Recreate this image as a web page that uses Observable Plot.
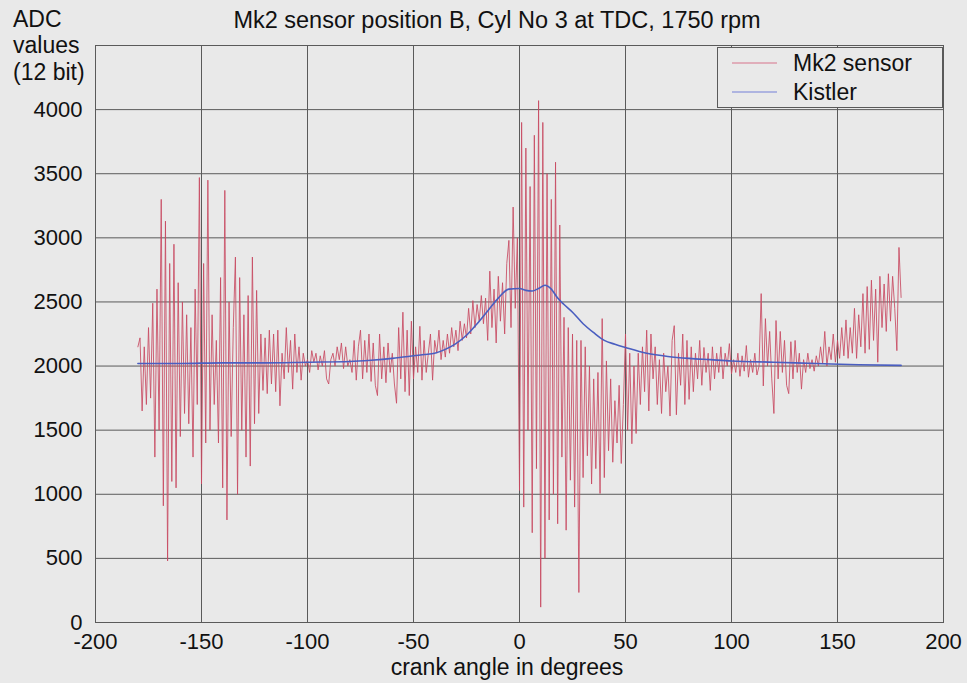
<!DOCTYPE html>
<html>
<head>
<meta charset="utf-8">
<script src="https://cdn.jsdelivr.net/npm/d3@7"></script>
<script src="https://cdn.jsdelivr.net/npm/@observablehq/plot@0.6"></script>
<style>
  html, body { margin: 0; padding: 0; background: #e9e9e9; }
  #chart svg { display: block; }
</style>
</head>
<body>
<div id="chart"></div>
<script>
// ---- Text ----
const titleText = "Mk2 sensor position B, Cyl No 3 at TDC, 1750 rpm";
const yLabelLines = ["ADC", "values", "(12 bit)"];
const xLabelText = "crank angle in degrees";
const seriesNames = ["Mk2 sensor", "Kistler"];

// ---- Ticks ----
const xTicks = [-200, -150, -100, -50, 0, 50, 100, 150, 200];
const yTicks = [0, 500, 1000, 1500, 2000, 2500, 3000, 3500, 4000];
const yGridExtra = [4500];

// ---- Mk2 sensor samples (one per degree, starting at -180) ----
const sensorStart = -180;
const sensorStep = 1;
const sensorValues = [
  2150, 2220, 1650, 2150, 1700, 2300, 1750, 2490, 1290, 2600,
  1500, 3300, 910, 3130, 480, 2800, 1100, 2950, 1050, 2650,
  1450, 2500, 1630, 2400, 1550, 2300, 1290, 2600, 1700, 3470,
  1080, 2800, 1400, 3450, 1500, 2400, 1700, 2200, 1400, 2690,
  1050, 3370, 800, 2500, 1450, 2300, 2850, 1000, 2690, 1500,
  2400, 1290, 2550, 1220, 2850, 1550, 2590, 1630, 2250, 1810,
  2220, 1785, 2280, 1860, 2250, 1800, 2280, 1690, 2100, 1900,
  2300, 1950, 2200, 1820, 2250, 1950, 2150, 1890, 2100, 2000,
  2050, 1950, 2120, 2030, 2100, 1970, 2080, 2000, 2120, 1900,
  1860, 2050, 2100, 2000, 2150, 2050, 2180, 1980, 2150, 2000,
  2050, 1950, 2200, 1890, 2150, 2280, 1900, 2200, 1950, 2250,
  1880, 2180, 1850, 1770, 2250, 1900, 2150, 1870, 2180, 1950,
  2100, 1860, 1710, 2300, 1900, 2420, 1800, 2280, 1770, 2350,
  1900, 2150, 1950, 2310, 1890, 2200, 1950, 2100, 2250, 1890,
  2200, 2100, 2280, 2050, 2200, 2070, 2250, 2100, 2300, 2150,
  2280, 2120, 2350, 2200, 2330, 2220, 2450, 2250, 2510, 2300,
  2480, 2350, 2550, 2330, 2530, 2200, 2740, 2300, 2600, 2180,
  2700, 2350, 2650, 2250, 2800, 2980, 2300, 3240, 2450, 3000,
  1030, 3900, 900, 3700, 1500, 3400, 700, 3800, 1200, 4070,
  120, 3900, 500, 3500, 800, 3300, 1000, 3590, 770, 3100,
  1290, 2380, 720, 2300, 1110, 2250, 900, 2200, 234, 2200,
  1130, 2150, 1300, 2000, 1080, 1900, 1200, 1950, 1006, 2370,
  1130, 2040, 1340, 1900, 1250, 1730, 1400, 1850, 1240, 1700,
  2250, 1500, 2100, 1394, 2000, 1474, 2100, 1700, 2150, 1800,
  2280, 1650, 2250, 1900, 2150, 1700, 2050, 1630, 2100, 1800,
  2000, 1610, 2200, 2315, 1620, 2100, 1850, 2250, 1700, 2200,
  1740, 2150, 1800, 2100, 1900, 2200, 1850, 2145, 1950, 2100,
  1810, 2150, 1900, 2100, 1950, 2150, 1900, 2100, 2000, 2175,
  1940, 2050, 1950, 2100, 1920, 2080, 1960, 2160, 1913, 2050,
  1950, 2100, 1930, 2000, 2565, 1845, 2370, 2000, 2270, 1900,
  1630, 2355, 1900, 2270, 1950, 2200, 1850, 1785, 2190, 1900,
  2200, 1950, 2100, 1820, 2050, 1950, 2100, 1980, 2050, 1960,
  2080, 2000, 2150, 2020, 2270, 2000, 2150, 2050, 2250, 2030,
  2200, 2060, 2300, 2080, 2360, 2060, 2300, 2100, 2450, 2060,
  2400, 2150, 2565, 2100, 2620, 2130, 2670, 2200, 2600, 2030,
  2700, 2300, 2640, 2270, 2720, 2350, 2700, 2450, 2120, 2925,
  2535
];

// ---- Kistler reference pressure ----
const kistlerAngles = [-180, -160, -140, -120, -100, -80, -70, -60, -55, -50, -45, -40, -35, -30, -25, -20, -15, -10, -5, 0, 3, 6, 9, 12, 15, 18, 21, 25, 30, 35, 40, 45, 50, 60, 70, 80, 90, 100, 120, 140, 160, 180];
const kistlerValues = [2020, 2020, 2025, 2025, 2030, 2035, 2045, 2060, 2070, 2080, 2090, 2100, 2130, 2175, 2240, 2330, 2430, 2530, 2600, 2605, 2590, 2585, 2605, 2630, 2600, 2530, 2480, 2420, 2330, 2260, 2200, 2170, 2145, 2100, 2075, 2060, 2050, 2040, 2030, 2020, 2010, 2005];

// ---- Colours ----
const colSensor = "#c84a62";
const colKistler = "#4a5ec0";
const colSensorLegend = "#dc9aaa";
const colKistlerLegend = "#9aa2dc";
const colGrid = "#5a5a5a";
const bg = "#e9e9e9";
const font = "'Liberation Sans', Arial, Helvetica, sans-serif";

const sensor = sensorValues.map((v, i) => ({angle: sensorStart + i * sensorStep, value: v}));
const kistler = kistlerAngles.map((a, i) => ({angle: a, value: kistlerValues[i]}));

const W = 967, H = 683;
const mL = 95, mR = 24, mT = 45, mB = 61;

const svg = Plot.plot({
  width: W,
  height: H,
  marginLeft: mL,
  marginRight: mR,
  marginTop: mT,
  marginBottom: mB,
  style: {background: bg, fontFamily: font, fontSize: "22px", color: "#111", overflow: "visible"},
  x: {domain: [-200, 200], axis: null},
  y: {domain: [0, 4500], axis: null},
  marks: [
    Plot.ruleX(xTicks, {stroke: colGrid, strokeWidth: 1}),
    Plot.ruleY(yTicks.concat(yGridExtra), {stroke: colGrid, strokeWidth: 1}),
    Plot.line(sensor, {x: "angle", y: "value", stroke: colSensor, strokeWidth: 1, strokeOpacity: 0.85}),
    Plot.line(kistler, {x: "angle", y: "value", stroke: colKistler, strokeWidth: 1.6, curve: "monotone-x"}),
    Plot.frame({stroke: colGrid}),
    // tick labels through the scales
    Plot.text(yTicks, {x: -200, y: d => d, text: d => String(d), textAnchor: "end", dx: -13, fontSize: 22, fill: "#111"}),
    Plot.text(xTicks, {x: d => d, y: 0, text: d => String(d), textAnchor: "middle", dy: 19, fontSize: 22, fill: "#111"})
  ]
});

const s = d3.select(svg);

// Title
s.append("text").attr("x", 497).attr("y", 28).attr("text-anchor", "middle")
  .attr("font-family", font).attr("font-size", 23.5).attr("fill", "#111").text(titleText);

// Y axis label (three lines, left aligned)
const yLabelBaselines = [27, 53, 80];
yLabelLines.forEach((t, i) => {
  s.append("text").attr("x", 13).attr("y", yLabelBaselines[i]).attr("text-anchor", "start")
    .attr("font-family", font).attr("font-size", 23).attr("fill", "#111").text(t);
});

// X axis label
s.append("text").attr("x", 507).attr("y", 675).attr("text-anchor", "middle")
  .attr("font-family", font).attr("font-size", 23).attr("fill", "#111").text(xLabelText);

// Legend
const lg = s.append("g");
lg.append("rect").attr("x", 717.5).attr("y", 47.5).attr("width", 225).attr("height", 60)
  .attr("fill", bg).attr("stroke", colGrid).attr("stroke-width", 1);
const legendCols = [colSensorLegend, colKistlerLegend];
const legendY = [63, 92];
seriesNames.forEach((n, i) => {
  lg.append("line").attr("x1", 732).attr("x2", 777).attr("y1", legendY[i]).attr("y2", legendY[i])
    .attr("stroke", legendCols[i]).attr("stroke-width", 1.5);
  lg.append("text").attr("x", 793).attr("y", legendY[i] + 8).attr("text-anchor", "start")
    .attr("font-family", font).attr("font-size", 23).attr("fill", "#111").text(n);
});

document.getElementById("chart").appendChild(svg);
</script>
</body>
</html>
